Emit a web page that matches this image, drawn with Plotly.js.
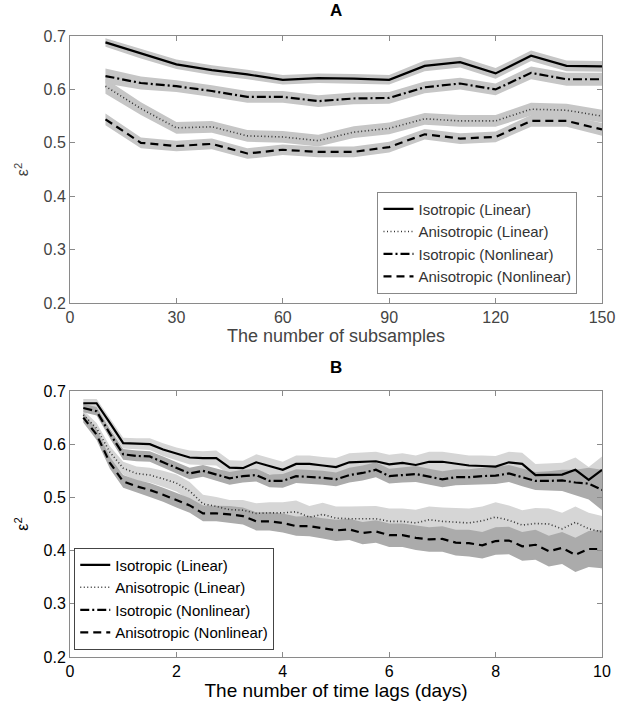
<!DOCTYPE html>
<html>
<head>
<meta charset="utf-8">
<script src="https://cdn.plot.ly/plotly-3.0.1.min.js"></script>
<style>html,body{margin:0;padding:0;background:#fff;}#chart{width:627px;height:703px;}</style>
</head>
<body>
<div id="chart"></div>
<script>
// ---------- Panel A data ----------
const xA = [10,20,30,40,50,60,70,80,90,100,110,120,130,140,150];
const aIsoLin = [0.688,0.667,0.647,0.636,0.628,0.618,0.621,0.620,0.618,0.644,0.651,0.630,0.663,0.644,0.643];
const aAniLin = [0.606,0.564,0.528,0.530,0.513,0.511,0.504,0.520,0.527,0.545,0.541,0.541,0.563,0.561,0.550];
const aIsoNon = [0.625,0.612,0.606,0.597,0.586,0.586,0.578,0.583,0.584,0.604,0.611,0.600,0.631,0.619,0.619];
const aAniNon = [0.544,0.500,0.494,0.498,0.480,0.487,0.483,0.483,0.492,0.516,0.508,0.511,0.541,0.541,0.525];
const aIsoLinErr = [0.008,0.009,0.009,0.009,0.009,0.009,0.009,0.009,0.009,0.010,0.010,0.010,0.010,0.010,0.010];
const aAniLinErr = [0.014,0.012,0.011,0.011,0.011,0.011,0.011,0.011,0.011,0.011,0.011,0.011,0.012,0.012,0.012];
const aIsoNonErr = [0.014,0.012,0.011,0.011,0.011,0.011,0.011,0.011,0.011,0.011,0.011,0.011,0.012,0.012,0.012];
const aAniNonErr = [0.011,0.010,0.010,0.010,0.010,0.010,0.010,0.010,0.010,0.010,0.010,0.010,0.011,0.011,0.012];

// ---------- Panel B data ----------
const xB = [0.25,0.5,0.75,1.0,1.25,1.5,1.75,2.0,2.25,2.5,2.75,3.0,3.25,3.5,3.75,4.0,4.25,4.5,4.75,5.0,
            5.25,5.5,5.75,6.0,6.25,6.5,6.75,7.0,7.25,7.5,7.75,8.0,8.25,8.5,8.75,9.0,9.25,9.5,9.75,10.0];
const bIsoLin = [0.677,0.677,0.640,0.602,0.601,0.600,0.590,0.582,0.575,0.574,0.574,0.556,0.555,0.566,0.559,0.552,0.563,0.563,0.560,0.557,
                 0.566,0.567,0.568,0.562,0.565,0.561,0.567,0.567,0.563,0.560,0.559,0.558,0.566,0.563,0.542,0.542,0.543,0.552,0.533,0.552];
const bAniLin = [0.655,0.630,0.585,0.555,0.545,0.542,0.535,0.527,0.512,0.488,0.483,0.477,0.476,0.470,0.471,0.471,0.473,0.463,0.468,0.461,
                 0.460,0.460,0.460,0.455,0.455,0.452,0.458,0.455,0.454,0.452,0.456,0.463,0.457,0.448,0.451,0.450,0.441,0.453,0.441,0.435];
const bIsoNon = [0.668,0.662,0.620,0.581,0.578,0.577,0.566,0.556,0.545,0.550,0.543,0.536,0.540,0.542,0.531,0.531,0.540,0.539,0.537,0.534,
                 0.542,0.546,0.552,0.540,0.542,0.544,0.539,0.534,0.538,0.538,0.540,0.541,0.545,0.538,0.531,0.531,0.532,0.528,0.526,0.514];
const bAniNon = [0.650,0.618,0.565,0.530,0.521,0.514,0.505,0.495,0.485,0.470,0.470,0.468,0.465,0.455,0.455,0.452,0.446,0.446,0.442,0.438,
                 0.440,0.433,0.436,0.429,0.429,0.424,0.421,0.422,0.415,0.414,0.410,0.418,0.419,0.408,0.411,0.399,0.405,0.392,0.403,0.403];
const bIsoLinErr = [0.008,0.008,0.009,0.010,0.010,0.011,0.012,0.012,0.013,0.013,0.014,0.014,0.014,0.015,0.015,0.015,0.016,0.016,0.016,0.017,
                    0.017,0.017,0.018,0.018,0.018,0.018,0.019,0.019,0.019,0.019,0.020,0.020,0.020,0.021,0.021,0.022,0.022,0.023,0.024,0.025];
const bAniLinErr = [0.009,0.010,0.011,0.012,0.013,0.014,0.015,0.016,0.017,0.017,0.018,0.018,0.019,0.019,0.020,0.020,0.021,0.021,0.022,0.022,
                    0.023,0.023,0.024,0.024,0.024,0.025,0.025,0.026,0.026,0.027,0.027,0.028,0.028,0.028,0.029,0.029,0.030,0.030,0.030,0.030];
const bIsoNonErr = [0.008,0.008,0.009,0.010,0.010,0.010,0.011,0.011,0.011,0.011,0.012,0.012,0.012,0.012,0.012,0.013,0.013,0.013,0.013,0.013,
                    0.014,0.014,0.014,0.014,0.014,0.015,0.015,0.015,0.015,0.015,0.016,0.016,0.016,0.017,0.017,0.018,0.020,0.024,0.030,0.038];
const bAniNonErr = [0.009,0.010,0.011,0.012,0.012,0.013,0.013,0.014,0.014,0.015,0.015,0.016,0.016,0.017,0.017,0.018,0.018,0.019,0.019,0.020,
                    0.020,0.021,0.021,0.022,0.022,0.023,0.023,0.024,0.024,0.025,0.025,0.026,0.026,0.027,0.028,0.029,0.030,0.032,0.034,0.036];

const names = ['Isotropic (Linear)','Anisotropic (Linear)','Isotropic (Nonlinear)','Anisotropic (Nonlinear)'];

function band(x, v, e, color, xa, ya) {
  const up = v.map((d,i)=>d+e[i]);
  const lo = v.map((d,i)=>d-e[i]);
  return {x: x.concat(x.slice().reverse()), y: up.concat(lo.slice().reverse()),
          type:'scatter', mode:'lines', fill:'toself', fillcolor: color,
          line:{width:0, color: color}, showlegend:false, hoverinfo:'skip', xaxis:xa, yaxis:ya};
}
const styles = [
  {dash:'solid', width:2.2, color:'#000'},
  {dash:'1px,2.5px', width:1.6, color:'#333'},
  {dash:'9px,3px,2px,3px', width:2.2, color:'#000'},
  {dash:'8px,5px', width:2.2, color:'#000'}
];
function line(x, v, k, xa, ya, leg) {
  return {x:x, y:v, type:'scatter', mode:'lines', name:names[k], line:styles[k],
          xaxis:xa, yaxis:ya, legend:leg};
}

const bandA = '#c6c6c6';
const lightB = '#d6d6d6', darkB = '#ababab';
const traces = [
  band(xA, aIsoLin, aIsoLinErr, bandA, 'x', 'y'),
  band(xA, aAniLin, aAniLinErr, bandA, 'x', 'y'),
  band(xA, aIsoNon, aIsoNonErr, bandA, 'x', 'y'),
  band(xA, aAniNon, aAniNonErr, bandA, 'x', 'y'),
  line(xA, aIsoLin, 0, 'x', 'y', 'legend'),
  line(xA, aAniLin, 1, 'x', 'y', 'legend'),
  line(xA, aIsoNon, 2, 'x', 'y', 'legend'),
  line(xA, aAniNon, 3, 'x', 'y', 'legend'),
  band(xB, bIsoLin, bIsoLinErr, lightB, 'x2', 'y2'),
  band(xB, bAniLin, bAniLinErr, lightB, 'x2', 'y2'),
  band(xB, bIsoNon, bIsoNonErr, darkB, 'x2', 'y2'),
  band(xB, bAniNon, bAniNonErr, darkB, 'x2', 'y2'),
  line(xB, bIsoLin, 0, 'x2', 'y2', 'legend2'),
  line(xB, bAniLin, 1, 'x2', 'y2', 'legend2'),
  line(xB, bIsoNon, 2, 'x2', 'y2', 'legend2'),
  line(xB, bAniNon, 3, 'x2', 'y2', 'legend2')
];

const fontFam = 'Liberation Sans, Arial, sans-serif';
const axCommon = {showline:true, linecolor:'#8a8a8a', linewidth:1, mirror:'ticks', ticks:'inside',
                  ticklen:5, tickcolor:'#8a8a8a', showgrid:false, zeroline:false, fixedrange:true};
const xTicksA = [0,30,60,90,120,150];
const xTicksB = [0,2,4,6,8,10];
const yTicks = [0.2,0.3,0.4,0.5,0.6,0.7];

const layout = {
  width:627, height:703,
  margin:{l:70, r:25, t:36, b:46},
  paper_bgcolor:'#fff', plot_bgcolor:'#fff',
  font:{family:fontFam, size:14, color:'#000'},
  xaxis: Object.assign({}, axCommon, {domain:[0,1], anchor:'y', range:[0,150], tickvals:xTicksA,
          tickfont:{size:16, color:'#444'},
          title:{text:'The number of subsamples', font:{size:18, color:'#444'}, standoff:2}}),
  yaxis: Object.assign({}, axCommon, {domain:[0.570,1], anchor:'x', range:[0.2,0.7], tickvals:yTicks,
          ticktext:yTicks.map(v=>v.toFixed(1)), tickfont:{size:16, color:'#444'},
          title:{text:'ε<sup>2</sup>', font:{size:16, color:'#444'}, standoff:10}}),
  xaxis2: Object.assign({}, axCommon, {domain:[0,1], anchor:'y2', range:[0,10], tickvals:xTicksB,
          tickfont:{size:16, color:'#000'},
          title:{text:'The number of time lags (days)', font:{size:19, color:'#000'}, standoff:2}}),
  yaxis2: Object.assign({}, axCommon, {domain:[0,0.4283], anchor:'x2', range:[0.2,0.7], tickvals:yTicks,
          ticktext:yTicks.map(v=>v.toFixed(1)), tickfont:{size:16, color:'#000'},
          title:{text:'ε<sup>2</sup>', font:{size:16, color:'#000'}, standoff:10}}),
  legend:{x:0.578, y:0.585, xanchor:'left', yanchor:'bottom', bgcolor:'#fff', bordercolor:'#888', borderwidth:1,
          font:{size:15, color:'#333'}, tracegroupgap:0, itemwidth:30},
  legend2:{x:0.008, y:0.012, xanchor:'left', yanchor:'bottom', bgcolor:'#fff', bordercolor:'#444', borderwidth:1,
          font:{size:15, color:'#000'}, tracegroupgap:0, itemwidth:30},
  annotations:[
    {text:'<b>A</b>', xref:'paper', yref:'paper', x:0.5, y:1, yshift:14, yanchor:'bottom', showarrow:false,
     font:{size:17, color:'#000'}},
    {text:'<b>B</b>', xref:'paper', yref:'paper', x:0.5, y:0.4283, yshift:12, yanchor:'bottom', showarrow:false,
     font:{size:17, color:'#000'}}
  ],
  showlegend:true
};

Plotly.newPlot('chart', traces, layout, {staticPlot:true, displayModeBar:false});
</script>
</body>
</html>
